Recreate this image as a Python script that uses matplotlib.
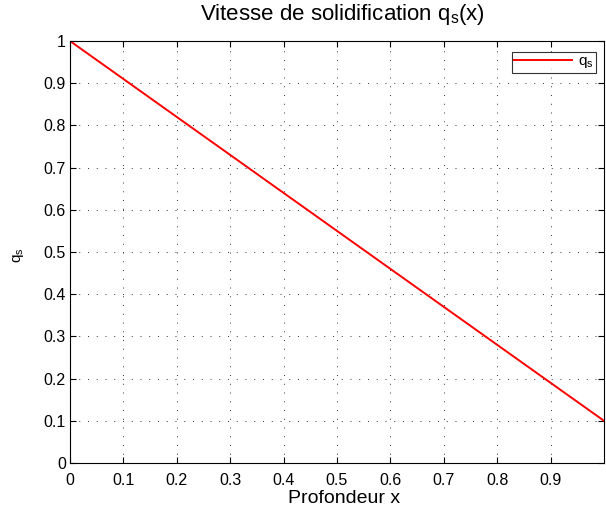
import matplotlib
matplotlib.use("Agg")
import matplotlib.pyplot as plt

plt.rcParams['font.family'] = ['Liberation Sans', 'DejaVu Sans']
plt.rcParams['mathtext.fontset'] = 'custom'
plt.rcParams['mathtext.rm'] = 'Liberation Sans'
plt.rcParams['mathtext.it'] = 'Liberation Sans'

# Valeurs
profondeur = [0.0, 0.1, 0.2, 0.3, 0.4, 0.5, 0.6, 0.7, 0.8, 0.9, 1.0]
qs = [1.0, 0.91, 0.82, 0.73, 0.64, 0.55, 0.46, 0.37, 0.28, 0.19, 0.10]

xticks = [0, 0.1, 0.2, 0.3, 0.4, 0.5, 0.6, 0.7, 0.8, 0.9]
xtick_labels = ['0', '0.1', '0.2', '0.3', '0.4', '0.5', '0.6', '0.7', '0.8', '0.9']
yticks = [0, 0.1, 0.2, 0.3, 0.4, 0.5, 0.6, 0.7, 0.8, 0.9, 1]
ytick_labels = ['0', '0.1', '0.2', '0.3', '0.4', '0.5', '0.6', '0.7', '0.8', '0.9', '1']

W, H = 606, 509
fig = plt.figure(figsize=(W / 100, H / 100), dpi=100)
ax = fig.add_axes([70 / W, 46 / H, 534 / W, 422 / H])

ax.plot(profondeur, qs, color='red', linewidth=1.4, label=r'$\mathregular{q_s}$')

ax.set_xlim(0, 1)
ax.set_ylim(0, 1)
ax.set_xticks(xticks)
ax.set_xticklabels(xtick_labels)
ax.set_yticks(yticks)
ax.set_yticklabels(ytick_labels)
ax.tick_params(direction='in', top=True, right=True, labelsize=11.5, length=4)
ax.tick_params(axis='x', pad=7)
ax.tick_params(axis='y', pad=3)
ax.grid(True, color='#333333', linestyle=(0, (1, 8)), linewidth=0.7)

# titre et labels
fig.text(342 / W, 1 - 20 / H, r'Vitesse de solidification $\mathregular{q_s}$(x)',
         fontsize=16, ha='center', va='baseline')
fig.text(344 / W, 1 - 503 / H, 'Profondeur x', fontsize=14, ha='center', va='baseline')
fig.text(18 / W, 1 - 255 / H, r'$\mathregular{q_s}$', fontsize=11, ha='center',
         va='center', rotation=90)

leg = ax.legend(loc='upper right', fancybox=False, edgecolor='black',
                fontsize=11, borderaxespad=0, handlelength=3.8, handletextpad=0.4,
                borderpad=0.15,
                bbox_to_anchor=(596 / W, 1 - 52 / H), bbox_transform=fig.transFigure)
leg.get_frame().set_linewidth(0.8)

fig.savefig('out.png', dpi=100)
